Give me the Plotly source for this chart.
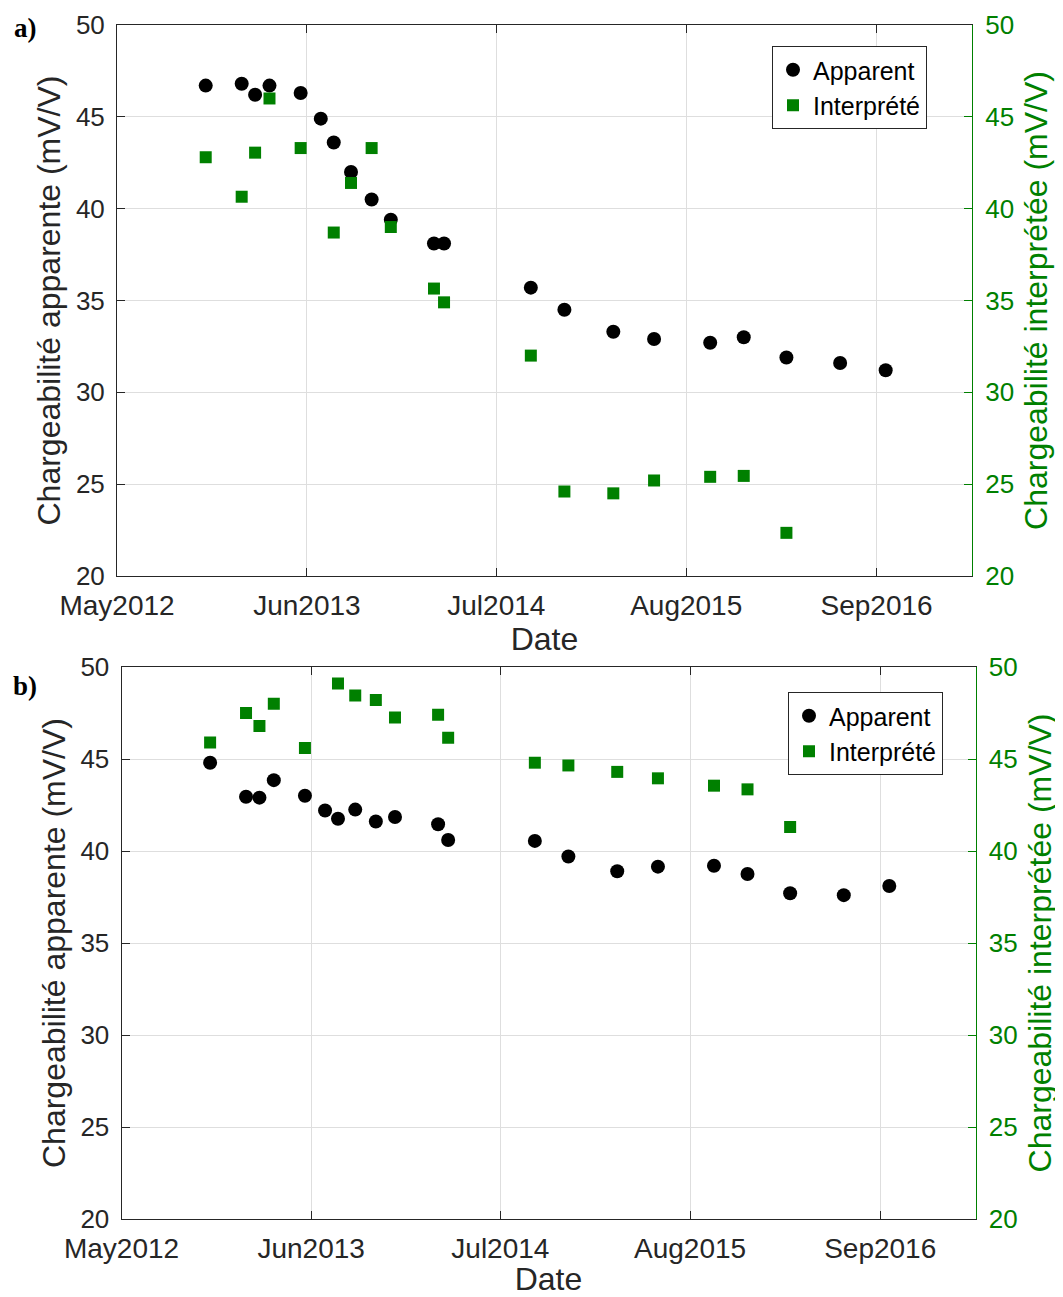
import plotly.graph_objects as go

# ---------------- data ----------------
app_dates = ["2012-11-02", "2013-01-16", "2013-02-13", "2013-03-15", "2013-05-19",
             "2013-06-30", "2013-07-27", "2013-09-01", "2013-10-14", "2013-11-23",
             "2014-02-21", "2014-03-14", "2014-09-11", "2014-11-20", "2015-03-02",
             "2015-05-26", "2015-09-20", "2015-11-29", "2016-02-26", "2016-06-17",
             "2016-09-20"]
interp_dates = ["2012-11-02", "2013-01-16", "2013-02-13", "2013-03-15", "2013-05-19",
                "2013-07-27", "2013-09-01", "2013-10-14", "2013-11-23",
                "2014-02-21", "2014-03-14", "2014-09-11", "2014-11-20", "2015-03-02",
                "2015-05-26", "2015-09-20", "2015-11-29", "2016-02-26"]

a_apparent = [46.7, 46.8, 46.2, 46.7, 46.3, 44.9, 43.6, 42.0, 40.5, 39.4, 38.1, 38.1,
              35.7, 34.5, 33.3, 32.9, 32.7, 33.0, 31.9, 31.6, 31.2]
a_interp = [42.8, 40.65, 43.05, 46.0, 43.3, 38.7, 41.4, 43.3, 39.0, 35.65, 34.9,
            32.0, 24.6, 24.5, 25.2, 25.4, 25.45, 22.35]

b_apparent = [44.8, 42.95, 42.9, 43.85, 43.0, 42.2, 41.75, 42.25, 41.6, 41.85, 41.45, 40.6,
              40.55, 39.7, 38.9, 39.15, 39.2, 38.75, 37.7, 37.6, 38.1]
b_interp = [45.9, 47.5, 46.8, 48.0, 45.6, 49.1, 48.45, 48.2, 47.25, 47.4, 46.15,
            44.8, 44.65, 44.3, 43.95, 43.55, 43.35, 41.3]

tick_dates = ["2012-05-01", "2013-06-01", "2014-07-01", "2015-08-01", "2016-09-01"]
tick_labels = ["May2012", "Jun2013", "Jul2014", "Aug2015", "Sep2016"]
x_range = ["2012-05-01", "2017-03-19"]
y_range = [20, 50]

series_names = ["Apparent", "Interprété"]
left_title = "Chargeabilité apparente (mV/V)"
right_title = "Chargeabilité interprétée (mV/V)"
x_title = "Date"
panel_labels = ["a)", "b)"]

# ---------------- style ----------------
OFF = 8  # default page body margin of the HTML page
W, H = 1063 - OFF, 1297 - OFF
DARK = "#262626"
GREEN = "#008000"
GRID = "#dedede"
FONT = "Liberation Sans, Arial, sans-serif"
XTICK_SIZE = 28
YTICK_SIZE = 26
TITLE_SIZE = 32


def px_x(p):
    return (p - OFF) / W


def px_y(p):
    return 1 - (p - OFF) / H


panels = [
    dict(x0=117, x1=972, y0=25, y1=576, app=a_apparent, itp=a_interp,
         leg_x=927, leg_y=46, lab_y=28),
    dict(x0=121.5, x1=975.5, y0=667, y1=1219, app=b_apparent, itp=b_interp,
         leg_x=943, leg_y=692, lab_y=686),
]

fig = go.Figure()
layout = dict(
    width=W, height=H, autosize=False,
    margin=dict(l=0, r=0, t=0, b=0),
    paper_bgcolor="white", plot_bgcolor="white",
    font=dict(family=FONT, color=DARK, size=YTICK_SIZE),
    annotations=[],
)

for i, p in enumerate(panels):
    xn = "x" if i == 0 else "x2"
    yl = "y" if i == 0 else "y3"
    yr = "y2" if i == 0 else "y4"
    legname = "legend" if i == 0 else "legend2"

    fig.add_trace(go.Scatter(
        x=app_dates, y=p["app"], mode="markers", name=series_names[0],
        marker=dict(symbol="circle", size=14, color="black", line=dict(width=0)),
        xaxis=xn, yaxis=yl, legend=legname))
    fig.add_trace(go.Scatter(
        x=interp_dates, y=p["itp"], mode="markers", name=series_names[1],
        marker=dict(symbol="square", size=12, color=GREEN, line=dict(width=0)),
        xaxis=xn, yaxis=yr, legend=legname))

    xkey = "xaxis" if i == 0 else "xaxis2"
    ylkey = "yaxis" if i == 0 else "yaxis3"
    yrkey = "yaxis2" if i == 0 else "yaxis4"

    layout[xkey] = dict(
        domain=[px_x(p["x0"]), px_x(p["x1"])], anchor=yl, type="date",
        range=x_range, tickvals=tick_dates, ticktext=tick_labels,
        ticks="inside", ticklen=8, tickcolor=DARK, tickwidth=1,
        showline=True, linecolor=DARK, linewidth=1, mirror="ticks",
        showgrid=True, gridcolor=GRID, gridwidth=1, zeroline=False,
        tickfont=dict(size=XTICK_SIZE, color=DARK), ticklabelstandoff=4,
        automargin=False,
        title=dict(text=x_title, font=dict(size=TITLE_SIZE, color=DARK), standoff=2),
    )
    layout[ylkey] = dict(
        domain=[px_y(p["y1"]), px_y(p["y0"])], anchor=xn, range=y_range, dtick=5,
        tick0=20, ticks="inside", ticklen=8, tickcolor=DARK, tickwidth=1,
        showline=True, linecolor=DARK, linewidth=1, mirror=False,
        showgrid=True, gridcolor=GRID, gridwidth=1, zeroline=False,
        tickfont=dict(size=YTICK_SIZE, color=DARK), ticklabelstandoff=6,
        automargin=False,
        title=dict(text=left_title, font=dict(size=TITLE_SIZE, color=DARK), standoff=5),
    )
    layout[yrkey] = dict(
        domain=[px_y(p["y1"]), px_y(p["y0"])], anchor=xn, overlaying=yl, side="right",
        range=y_range, dtick=5, tick0=20, ticks="inside", ticklen=8,
        tickcolor=GREEN, tickwidth=1, showline=True, linecolor=GREEN, linewidth=1,
        showgrid=False, zeroline=False, automargin=False,
        tickfont=dict(size=YTICK_SIZE, color=GREEN), ticklabelstandoff=7,
        title=dict(text=right_title, font=dict(size=TITLE_SIZE, color=GREEN), standoff=11),
    )
    layout[legname] = dict(
        x=px_x(p["leg_x"]), xanchor="right", y=px_y(p["leg_y"]), yanchor="top",
        bgcolor="white", bordercolor=DARK, borderwidth=1,
        font=dict(size=25, color="black", family=FONT),
        tracegroupgap=0, itemsizing="trace",
    )
    layout["annotations"].append(dict(
        text="<b>%s</b>" % panel_labels[i], xref="paper", yref="paper",
        x=px_x(25), y=px_y(p["lab_y"]), xanchor="center", yanchor="middle",
        showarrow=False, font=dict(family="Liberation Serif, Times New Roman, serif",
                                   size=27, color="black"),
    ))

fig.update_layout(**layout)
fig.write_html("out.html")
